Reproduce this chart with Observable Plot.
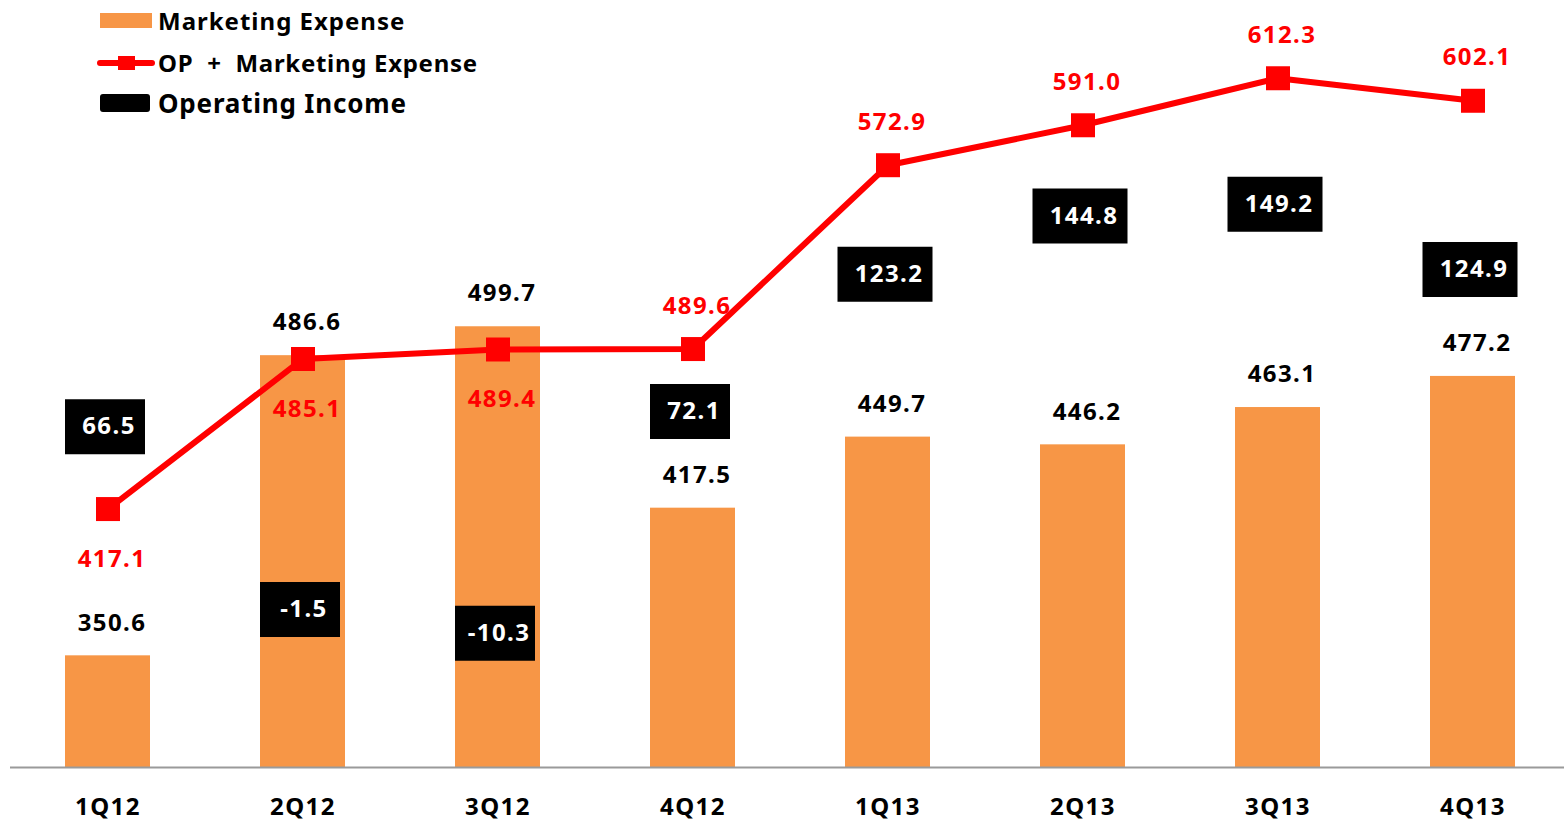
<!DOCTYPE html>
<html>
<head>
<meta charset="utf-8">
<script src="https://cdn.jsdelivr.net/npm/d3@7"></script>
<script src="https://cdn.jsdelivr.net/npm/@observablehq/plot@0.6"></script>
<style>
  html, body { margin: 0; padding: 0; background: #fff; overflow: hidden; }
  #wrap { position: relative; width: 1564px; height: 822px; }
  #legend { position: absolute; left: 0; top: 0; width: 520px; height: 130px;
            font-family: "Noto Sans", "Open Sans", sans-serif; font-weight: bold; color: #000; }
  .sw { position: absolute; }
  .lt { position: absolute; left: 158px; white-space: nowrap; line-height: 30px; height: 30px; }
</style>
</head>
<body>
<div id="wrap">
  <div id="chart"></div>
  <div id="legend"></div>
</div>
<script>
// ---------- data ----------
const quarters = ["1Q12", "2Q12", "3Q12", "4Q12", "1Q13", "2Q13", "3Q13", "4Q13"];
const marketingExpense = [350.6, 486.6, 499.7, 417.5, 449.7, 446.2, 463.1, 477.2];
const opPlusMarketing = [417.1, 485.1, 489.4, 489.6, 572.9, 591.0, 612.3, 602.1];
const operatingIncome = [66.5, -1.5, -10.3, 72.1, 123.2, 144.8, 149.2, 124.9];
const seriesNames = ["Marketing Expense", "OP + Marketing Expense", "Operating Income"];
const yDomain = [300, 650];

// ---------- styles ----------
const ORANGE = "#F79646";
const RED = "#FF0000";
const FONT = "'Noto Sans', 'Open Sans', sans-serif";

const rows = quarters.map((q, i) => ({
  q, me: marketingExpense[i], op: opPlusMarketing[i], oi: operatingIncome[i], i
}));

// Operating income is shown on its own (secondary) scale, mapped into the primary y units
const oiScale = d3.scaleLinear().domain([0, 150]).range([373.4, 556.2]);

const squareSym = { draw(ctx) { ctx.rect(-12, -12, 24, 24); } };
const boxSym = w => ({ draw(ctx) { ctx.rect(-w / 2, -27.5, w, 55); } });

const fmt = v => v.toFixed(1);
const short = rows.filter(d => Math.abs(d.oi) < 100);
const long = rows.filter(d => Math.abs(d.oi) >= 100);

const chart = Plot.plot({
  width: 1564,
  height: 822,
  marginTop: 0,
  marginBottom: 55,
  marginLeft: 10,
  marginRight: 0,
  style: { fontFamily: FONT, color: "#000", background: "transparent", letterSpacing: "1.4px" },
  x: { type: "band", domain: quarters, range: [10, 1570], paddingInner: 0.564, paddingOuter: 0.282, axis: null },
  y: { domain: yDomain, range: [767, 767 - 350 * 2.207], axis: null },
  marks: [
    Plot.barY(rows, { x: "q", y1: yDomain[0], y2: "me", fill: ORANGE }),
    Plot.ruleY([yDomain[0]], { stroke: "#9a9a9a", strokeWidth: 2 }),
    Plot.axisX({ tickSize: 0, tickPadding: 30, fontSize: 24, fontWeight: "bold", fill: "#000", label: null }),
    Plot.text(rows, { x: "q", y: "me", text: d => fmt(d.me), dy: -33, dx: 4,
      fontSize: 24, fontWeight: "bold", fill: "#000" }),
    Plot.text(rows, { x: "q", y: "op", text: d => fmt(d.op), dx: 4,
      filter: d => d.i < 3, dy: 50, fontSize: 24, fontWeight: "bold", fill: RED }),
    Plot.text(rows, { x: "q", y: "op", text: d => fmt(d.op), dx: 4,
      filter: d => d.i >= 3, dy: -43, fontSize: 24, fontWeight: "bold", fill: RED }),
    Plot.line(rows, { x: "q", y: "op", stroke: RED, strokeWidth: 6 }),
    Plot.dot(rows, { x: "q", y: "op", symbol: squareSym, fill: RED, stroke: "none" }),
    Plot.dot(short, { x: "q", y: d => oiScale(d.oi), symbol: boxSym(80), fill: "#000", stroke: "none", dx: -3 }),
    Plot.dot(long, { x: "q", y: d => oiScale(d.oi), symbol: boxSym(95), fill: "#000", stroke: "none", dx: -3 }),
    Plot.text(rows, { x: "q", y: d => oiScale(d.oi), text: d => fmt(d.oi), dx: 1,
      fontSize: 24, fontWeight: "bold", fill: "#fff" })
  ]
});
document.getElementById("chart").appendChild(chart);

// ---------- legend ----------
const legend = document.getElementById("legend");
legend.innerHTML = `
  <div class="sw" style="left:100px;top:13px;width:52px;height:15px;background:${ORANGE}"></div>
  <div class="lt" style="top:6px;font-size:24px;letter-spacing:1px">${seriesNames[0]}</div>
  <div class="sw" style="left:97px;top:60px;width:58px;height:6px;background:${RED};border-radius:3px"></div>
  <div class="sw" style="left:118px;top:56px;width:17px;height:14px;background:${RED}"></div>
  <div class="lt" style="top:48px;font-size:24px;letter-spacing:0.7px">${seriesNames[1].replace("+", "&nbsp;+&nbsp;")}</div>
  <div class="sw" style="left:100px;top:94px;width:50px;height:18px;background:#000;border-radius:3px"></div>
  <div class="lt" style="top:88px;font-size:26px;letter-spacing:0.8px">${seriesNames[2]}</div>
`;
</script>
</body>
</html>
